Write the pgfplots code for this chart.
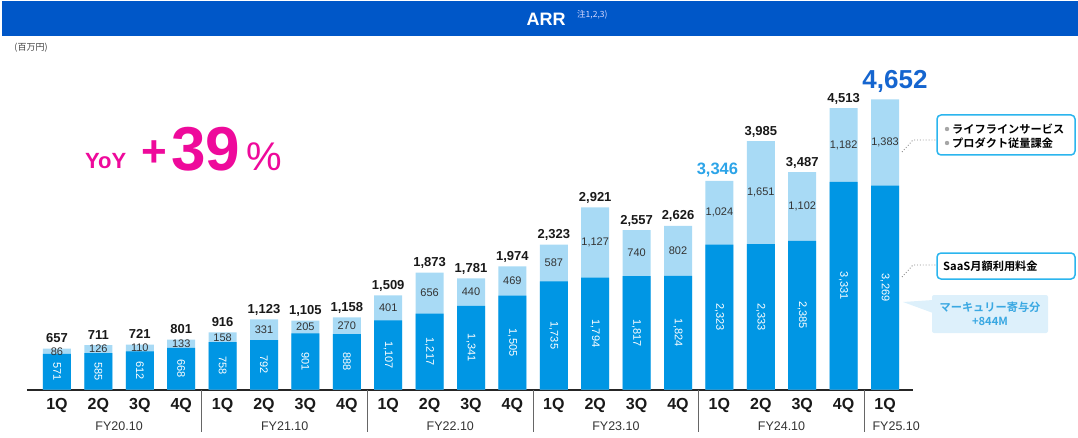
\documentclass[border=0pt]{standalone}
\usepackage{pgfplots}
\pgfplotsset{compat=1.18}
\usepackage{pgfplotstable}
\usepackage{fontspec}
\setmainfont{Liberation Sans}
\newfontfamily\jp{Noto Sans CJK JP}[BoldFont={Noto Sans CJK JP Bold}]
\definecolor{saas}{HTML}{0096E4}
\definecolor{life}{HTML}{A8DAF5}
\definecolor{titleblue}{HTML}{0057C8}
\definecolor{mag}{HTML}{EE0A9B}
\definecolor{hl}{HTML}{2CA4E8}
\definecolor{bigblue}{HTML}{1565CF}
\definecolor{boxb}{HTML}{2BB5EE}
\definecolor{merc}{HTML}{DDF0FB}
\definecolor{merct}{HTML}{3AA8E2}
\pgfkeys{/pgf/number format/.cd, fixed, precision=0, 1000 sep={,}, assume math mode=true}
\pgfplotstableread{
x saas life total
0 571 86 657
1 585 126 711
2 612 110 721
3 668 133 801
4 758 158 916
5 792 331 1123
6 901 205 1105
7 888 270 1158
8 1107 401 1509
9 1217 656 1873
10 1341 440 1781
11 1505 469 1974
12 1735 587 2323
13 1794 1127 2921
14 1817 740 2557
15 1824 802 2626
16 2323 1024 3346
17 2333 1651 3985
18 2385 1102 3487
19 3331 1182 4513
20 3269 1383 4652
}\datatable
\begin{document}
\begin{tikzpicture}
\useasboundingbox (0pt,0pt) rectangle (1078pt,437pt);
\begin{axis}[
  at={(27pt,47.5pt)}, anchor=south west,
  scale only axis, width=886pt, height=311.7pt,
  xmin=-0.7246, xmax=20.676, ymin=0, ymax=5000,
  axis x line*=bottom, axis y line=none,
  x axis line style={-, line width=2pt, color=black!85},
  xtick={0,...,20},
  xticklabels={1Q,2Q,3Q,4Q,1Q,2Q,3Q,4Q,1Q,2Q,3Q,4Q,1Q,2Q,3Q,4Q,1Q,2Q,3Q,4Q,1Q},
  major tick length=0pt,
  xticklabel style={anchor=base, yshift=-20pt, font=\fontsize{16}{16}\selectfont\bfseries, text=black!90},
  clip=false,
]
\addplot[ybar, bar width=28pt, bar shift=0pt, fill=life, draw=none] table[x=x,y=total]{\datatable};
\addplot[ybar, bar width=28pt, bar shift=0pt, fill=saas, draw=none] table[x=x,y=saas]{\datatable};
% SaaS labels
\addplot[draw=none, point meta=explicit,
  nodes near coords={\pgfmathprintnumber{\pgfplotspointmeta}},
  nodes near coords style={rotate=-90, anchor=center, text=white, font=\fontsize{11}{11}\selectfont}]
  table[x=x, y expr=\thisrow{saas}/2, meta=saas]{\datatable};
% Lifeline labels
\addplot[draw=none, point meta=explicit,
  nodes near coords={\pgfmathprintnumber{\pgfplotspointmeta}},
  nodes near coords style={anchor=center, text=black!80, font=\fontsize{11}{11}\selectfont}]
  table[x=x, y expr=(\thisrow{saas}+\thisrow{total})/2, meta=life]{\datatable};
% Totals
\addplot[draw=none, point meta=explicit,
  skip coords between index={16}{17}, skip coords between index={20}{21},
  nodes near coords={\pgfmathprintnumber{\pgfplotspointmeta}},
  nodes near coords style={anchor=base, yshift=6pt, text=black!90, font=\fontsize{13}{13}\selectfont\bfseries}]
  table[x=x, y=total, meta=total]{\datatable};
\addplot[draw=none, point meta=y,
  nodes near coords={\pgfmathprintnumber{\pgfplotspointmeta}},
  nodes near coords style={anchor=base, yshift=6pt, xshift=-2pt, text=hl, font=\fontsize{16.5}{16.5}\selectfont\bfseries}]
  coordinates {(16,3346)};
\addplot[draw=none, point meta=y,
  nodes near coords={\pgfmathprintnumber{\pgfplotspointmeta}},
  nodes near coords style={anchor=base, yshift=11pt, xshift=10pt, text=bigblue, font=\fontsize{26}{26}\selectfont\bfseries}]
  coordinates {(20,4652)};
% separators
\pgfplotsinvokeforeach{3.5,7.5,11.5,15.5,19.5}{
  \draw[black!60, line width=0.9pt] (axis cs:#1,0) -- ++(0pt,-42pt);
}
\node[anchor=base, yshift=-41pt, font=\fontsize{12.5}{12.5}\selectfont, text=black!80] at (axis cs:1.5,0) {FY20.10};
\node[anchor=base, yshift=-41pt, font=\fontsize{12.5}{12.5}\selectfont, text=black!80] at (axis cs:5.5,0) {FY21.10};
\node[anchor=base, yshift=-41pt, font=\fontsize{12.5}{12.5}\selectfont, text=black!80] at (axis cs:9.5,0) {FY22.10};
\node[anchor=base, yshift=-41pt, font=\fontsize{12.5}{12.5}\selectfont, text=black!80] at (axis cs:13.5,0) {FY23.10};
\node[anchor=base, yshift=-41pt, font=\fontsize{12.5}{12.5}\selectfont, text=black!80] at (axis cs:17.5,0) {FY24.10};
\node[anchor=base, yshift=-41pt, font=\fontsize{12.5}{12.5}\selectfont, text=black!80] at (axis cs:20.27,0) {FY25.10};
\end{axis}
\begin{scope}[x=1pt,y=1pt]
% title bar
\fill[titleblue] (2,401) rectangle (1078,436);
\node[text=white, font=\fontsize{18}{18}\selectfont\bfseries] at (546,417.5) {ARR};
\node[anchor=base west, inner sep=0pt, text=white!85!blue, font=\jp\fontsize{8.5}{8.5}\selectfont] at (577,419) {注1,2,3)};
\node[text=black!75, font=\jp\fontsize{9}{9}\selectfont] at (31,389) {(百万円)};
% YoY
\node[anchor=base west, inner sep=0pt, text=mag, font=\fontsize{22}{22}\selectfont\bfseries] at (85,269) {YoY};
\node[anchor=base west, inner sep=0pt, text=mag, font=\fontsize{44}{44}\selectfont\bfseries] at (141,270) {+};
\node[anchor=base west, inner sep=0pt, text=mag, font=\fontsize{62}{62}\selectfont\bfseries] at (171,266) {39};
\node[anchor=base west, inner sep=0pt, text=mag, font=\fontsize{40}{40}\selectfont] at (246,266) {\%};
% legend box 1
\draw[black!45, dotted, line width=0.9pt] (902,285) -- (913,297) -- (937,297);
\draw[boxb, line width=1.5pt, fill=white, rounded corners=4pt] (937,282) rectangle (1075,322);
\fill[black!35] (947,308) circle (2.2);
\fill[black!35] (947,294) circle (2.2);
\node[anchor=west, inner sep=0pt, font=\jp\bfseries\fontsize{11.2}{11.2}\selectfont] at (952,308) {ライフラインサービス};
\node[anchor=west, inner sep=0pt, font=\jp\bfseries\fontsize{11.2}{11.2}\selectfont] at (952,294) {プロダクト従量課金};
% legend box 2
\draw[black!45, dotted, line width=0.9pt] (902,160) -- (913,172) -- (937,172);
\draw[boxb, line width=1.5pt, fill=white, rounded corners=4pt] (937,158) rectangle (1075,184);
\node[anchor=west, inner sep=0pt, font=\jp\bfseries\fontsize{11.2}{11.2}\selectfont] at (943,171) {SaaS月額利用料金};
% mercury box
\fill[merc] (903,135) -- (933,137) -- (933,124) -- cycle;
\fill[merc, rounded corners=2pt] (932,104) rectangle (1048,142);
\node[text=merct, font=\jp\bfseries\fontsize{11.2}{11.2}\selectfont] at (990,130) {マーキュリー寄与分};
\node[text=merct, font=\jp\bfseries\fontsize{11.2}{11.2}\selectfont] at (990,116) {+844M};
\end{scope}
\end{tikzpicture}
\end{document}
